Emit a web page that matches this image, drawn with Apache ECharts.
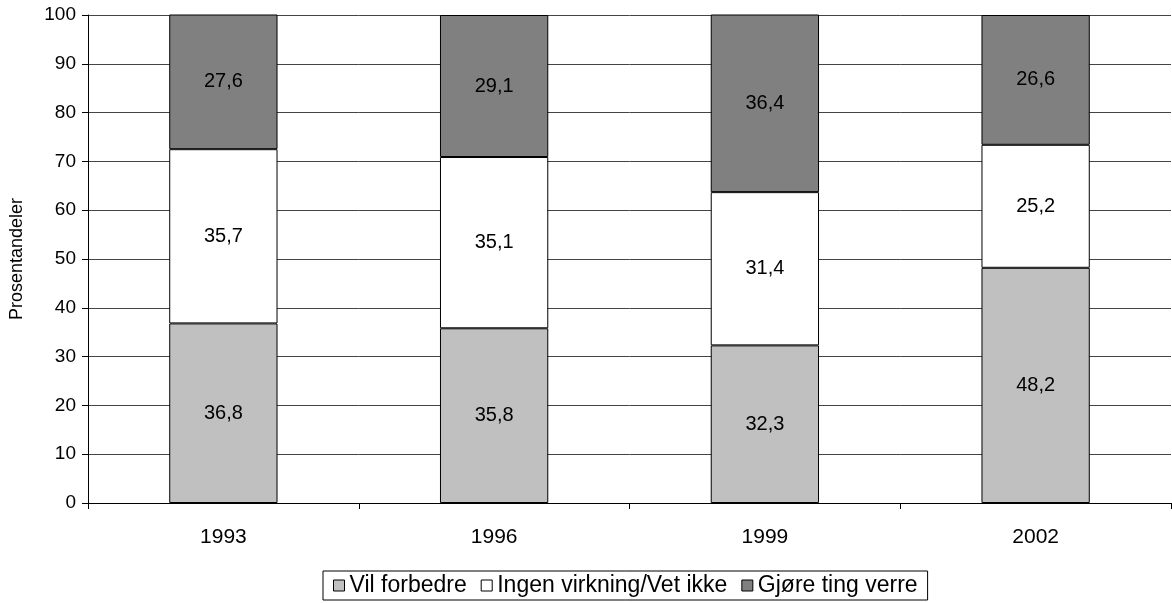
<!DOCTYPE html>
<html>
<head>
<meta charset="utf-8">
<script src="https://cdn.jsdelivr.net/npm/echarts@6/dist/echarts.min.js"></script>
<style>
  html, body { margin: 0; padding: 0; background: #fff; }
  #chart-view { width: 1172px; height: 603px; }
</style>
</head>
<body>
<div id="chart-view"></div>
<script>
  // data
  const years = ['1993', '1996', '1999', '2002']
  const seriesNames = ['Vil forbedre', 'Ingen virkning/Vet ikke', 'Gjøre ting verre']
  const vilForbedre = [36.8, 35.8, 32.3, 48.2]
  const ingenVirkning = [35.7, 35.1, 31.4, 25.2]
  const gjoreVerre = [27.6, 29.1, 36.4, 26.6]
  const colors = ['#C0C0C0', '#FFFFFF', '#808080']

  const chart = echarts.init(document.getElementById('chart-view'))
  const font = '"Liberation Sans", Arial, sans-serif'

  const makeSeries = (name, data, color) => ({
    name: name,
    type: 'bar',
    stack: 'total',
    data: data,
    barWidth: '40%',
    itemStyle: { color: color, borderColor: '#000', borderWidth: 1 },
    label: {
      show: true,
      position: 'inside',
      color: '#000',
      fontFamily: font,
      fontSize: 20,
      formatter: p => String(p.value).replace('.', ',')
    }
  })

  const option = {
    animation: false,
    grid: { left: 88, right: 1, top: 15, bottom: 100 },
    legend: {
      left: 323,
      top: 571,
      data: seriesNames,
      icon: 'rect',
      itemWidth: 11,
      itemHeight: 11,
      itemGap: 14,
      padding: [3, 10, 3, 10],
      borderColor: '#000',
      borderWidth: 1,
      borderRadius: 0,
      itemStyle: { borderColor: '#000', borderWidth: 1 },
      textStyle: { fontFamily: font, fontSize: 23, color: '#000' }
    },
    xAxis: {
      type: 'category',
      data: years,
      axisLine: { lineStyle: { color: '#000', width: 1 } },
      axisTick: { show: true, length: 6, lineStyle: { color: '#000' } },
      axisLabel: { fontFamily: font, fontSize: 21, color: '#000', margin: 24 }
    },
    yAxis: {
      type: 'value',
      min: 0,
      max: 100,
      interval: 10,
      name: 'Prosentandeler',
      nameLocation: 'middle',
      nameGap: 62,
      nameTextStyle: { fontFamily: font, fontSize: 18, color: '#000' },
      axisLine: { show: true, lineStyle: { color: '#000', width: 1 } },
      axisTick: { show: true, length: 6, lineStyle: { color: '#000' } },
      axisLabel: { fontFamily: font, fontSize: 19, color: '#000', margin: 12 },
      splitLine: { show: true, lineStyle: { color: '#444', width: 1 } }
    },
    series: [
      makeSeries(seriesNames[0], vilForbedre, colors[0]),
      makeSeries(seriesNames[1], ingenVirkning, colors[1]),
      makeSeries(seriesNames[2], gjoreVerre, colors[2])
    ]
  }

  chart.setOption(option)
</script>
</body>
</html>
